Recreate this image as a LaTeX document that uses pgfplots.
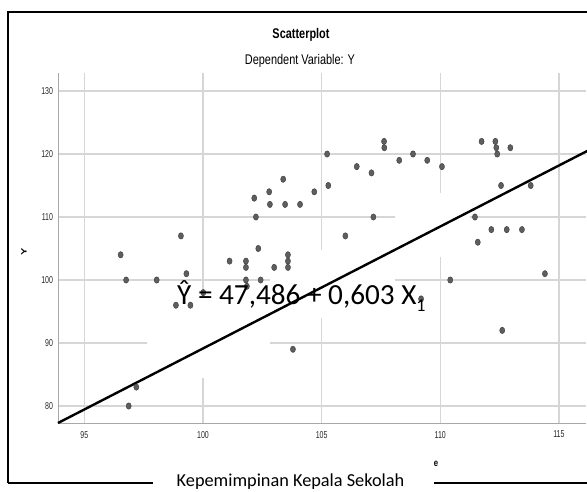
\documentclass[border=0pt]{standalone}
\usepackage{pgfplots}
\pgfplotsset{compat=1.18}
\usepackage{fontspec}
\setmainfont{Liberation Sans}
\newfontfamily\spss{Liberation Sans}[FakeStretch=0.78]
\newfontfamily\spsstick{Liberation Sans}[FakeStretch=0.70]
\newfontfamily\calib{Carlito}
\definecolor{gridc}{HTML}{D6D6D6}
\definecolor{axc}{HTML}{A8A8A8}
\definecolor{ptfill}{HTML}{5E5E5E}
\definecolor{ptedge}{HTML}{3A3A3A}
\begin{document}
\begin{tikzpicture}
\path[use as bounding box] (0,0) rectangle (587pt,491pt);
\begin{axis}[
  at={(58pt,68pt)}, anchor=south west,
  scale only axis, width=528pt, height=350pt,
  xmin=93.89, xmax=116.14, ymin=77.3, ymax=132.86,
  axis x line*=bottom, axis y line*=left,
  axis line style={draw=axc, line width=0.9pt},
  xtick={95,100,105,110,115}, ytick={80,90,100,110,120,130},
  major tick length=0pt,
  grid=major, major grid style={draw=gridc, line width=1.1pt},
  /pgf/number format/assume math mode=true,
  ticklabel style={font=\spsstick\fontsize{10}{12}\selectfont, text=black!85},
  yticklabel style={xshift=-1.5pt},
  xticklabel style={yshift=-4.5pt},
  clip=false,
]
% white patches covering parts of the grid
\fill[white] (axis cs:97.64,84.44) rectangle (axis cs:102.82,97.14);
\fill[white] (axis cs:102.82,93.97) rectangle (axis cs:108.09,104.76);
\fill[white] (axis cs:108.09,103.65) rectangle (axis cs:111.25,113.81);
\addplot[only marks, mark=*, mark size=3.2pt,
  mark options={xscale=0.8, fill=ptfill, draw=ptedge, line width=0.4pt}]
coordinates {
(99.07,107) (102.16,113) (102.23,110) (102.33,105) (102.79,114) (102.82,112)
(103.38,116) (103.46,112) (104.09,112) (104.69,114) (105.23,120) (105.28,115)
(106.0,107) (106.48,118) (107.1,117) (107.18,110) (107.63,122) (107.64,121)
(108.27,119) (108.85,120) (109.45,119) (110.07,118) (111.74,122) (112.32,122)
(112.36,121) (112.40,120) (112.95,121) (112.56,115) (113.81,115) (111.46,110)
(112.15,108) (112.80,108) (113.44,108) (111.58,106) (96.53,104) (96.76,100)
(98.05,100) (99.30,101) (101.12,103) (98.86,96) (99.47,96) (100.01,98)
(97.19,83) (96.87,80) (101.81,103) (101.81,102) (101.81,100) (101.85,99)
(102.43,100) (103.0,102) (103.58,104) (103.58,103) (103.58,102) (103.79,89)
(109.19,97) (110.42,100) (112.61,92) (114.41,101)
};
\addplot[black, line width=2.4pt] coordinates {(93.89,77.3) (116.2,120.5)};
\end{axis}
% outer frame
\draw[black, line width=1.8pt] (8pt,8pt) -- (8pt,479pt) -- (587pt,479pt);
\draw[black, line width=1.8pt] (8pt,8pt) -- (153pt,8pt);
\draw[black, line width=1.8pt] (434pt,8pt) -- (587pt,8pt);
% titles
\node[anchor=base, inner sep=0pt] at (301pt,452pt) {\spss\bfseries\fontsize{14}{16}\selectfont Scatterplot};
\node[anchor=base, inner sep=0pt] at (300pt,426pt) {\spss\fontsize{14}{16}\selectfont Dependent Variable: Y};
\node[inner sep=0pt] at (24pt,239pt) {\scalebox{0.7}[1]{\rotatebox{90}{\bfseries\fontsize{11}{12}\selectfont Y}}};
\node[anchor=base, inner sep=0pt] at (436pt,25pt) {\spss\bfseries\fontsize{10}{12}\selectfont e};
% equation
\node[anchor=base west, inner sep=0pt] at (177pt,186pt) {\calib\fontsize{29.2}{32}\selectfont Ŷ = 47,486 + 0,603 X\raisebox{-7pt}{\fontsize{18}{18}\selectfont 1}};
% bottom label
\node[anchor=base, inner sep=0pt] at (290.5pt,5pt) {\calib\fontsize{18.3}{20}\selectfont Kepemimpinan Kepala Sekolah};
\end{tikzpicture}
\end{document}
